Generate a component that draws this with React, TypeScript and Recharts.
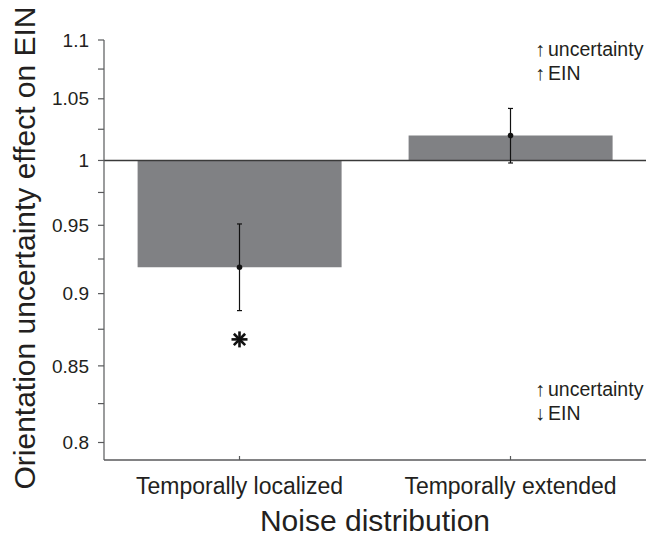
import * as React from 'react';
import {
    ComposedChart,
    Bar,
    Scatter,
    ErrorBar,
    XAxis,
    YAxis,
    ReferenceLine
} from 'recharts';

// values
const categories = ['Temporally localized', 'Temporally extended'];
const effect = [0.919, 1.02];
const errLow = [0.888, 0.998];
const errHigh = [0.951, 1.042];
const sigMarker: (number | null)[] = [0.868, null];
const yTicks = [0.8, 0.825, 0.85, 0.875, 0.9, 0.925, 0.95, 0.975, 1, 1.025, 1.05, 1.075, 1.1];

const BASE = 1;
const TEXT = '#231f20';
const AXIS = '#58595b';
const FONT = '"Liberation Sans", Arial, Helvetica, sans-serif';

const data = categories.map((c, i) => ({
    name: c,
    range: [BASE, effect[i]],
    mean: effect[i],
    err: [effect[i] - errLow[i], errHigh[i] - effect[i]],
    sig: sigMarker[i]
}));

const YTick = (props: any) => {
    const v = props.payload.value;
    const major = Math.round(v * 1000) % 50 === 0;
    if (!major) return null;
    return (
        <text x={props.x} y={props.y} dy="0.35em" textAnchor="end" fontSize={19} fill={TEXT} fontFamily={FONT}>
            {String(v)}
        </text>
    );
};

const XTick = (props: any) => {
    const { x, y, payload } = props;
    return (
        <g>
            <line x1={x} x2={x} y1={y} y2={y - 4} stroke={AXIS} strokeWidth={1.2} />
            <text x={x} y={y + 34} textAnchor="middle" fontSize={23} fill={TEXT} fontFamily={FONT}>
                {payload.value}
            </text>
        </g>
    );
};

const Dot = (props: any) => {
    if (!Number.isFinite(props.cx) || !Number.isFinite(props.cy)) return null;
    return <circle cx={props.cx} cy={props.cy} r={2.8} fill="#111" />;
};

const Asterisk = (props: any) => {
    const { cx, cy, payload } = props;
    if (payload.sig == null || !Number.isFinite(cy)) return null;
    const r = 8;
    const arms = [0, 45, 90, 135];
    return (
        <g>
            {arms.map((a) => {
                const dx = r * Math.cos((a * Math.PI) / 180);
                const dy = r * Math.sin((a * Math.PI) / 180);
                return <line key={a} x1={cx - dx} y1={cy - dy} x2={cx + dx} y2={cy + dy} stroke="#111" strokeWidth={2.6} />;
            })}
        </g>
    );
};

const Note = ({ y, arrow, word }: { y: number; arrow: string; word: string }) => (
    <g>
        <text x={535} y={y} fontSize={20}>{arrow}</text>
        <text x={548} y={y} fontSize={19.5}>{word}</text>
    </g>
);

export default function App() {
    return (
        <div style={{ position: 'absolute', left: 0, top: 0, width: 652, height: 537, background: '#fff' }}>
            <ComposedChart
                width={652}
                height={537}
                data={data}
                margin={{ top: 40, right: 6, bottom: 0, left: 0 }}
                barCategoryGap="12.4%"
            >
                <XAxis
                    dataKey="name"
                    type="category"
                    height={77}
                    tickSize={0}
                    tickMargin={0}
                    tick={<XTick />}
                    axisLine={{ stroke: AXIS, strokeWidth: 1.4 }}
                    tickLine={false}
                    interval={0}
                />
                <YAxis
                    scale="log"
                    domain={[0.789, 1.1]}
                    allowDataOverflow
                    ticks={yTicks}
                    width={104}
                    tickSize={6}
                    tickMargin={9}
                    tick={<YTick />}
                    axisLine={{ stroke: AXIS, strokeWidth: 1.2 }}
                    tickLine={{ stroke: AXIS, strokeWidth: 1.2 }}
                    interval={0}
                />
                <Bar dataKey="range" fill="#808184" isAnimationActive={false} />
                <ReferenceLine y={BASE} stroke="#3a3a3a" strokeWidth={1.6} />
                <Scatter dataKey="mean" shape={<Dot />} isAnimationActive={false}>
                    <ErrorBar dataKey="err" direction="y" width={2.5} stroke="#111" strokeWidth={1.2} />
                </Scatter>
                <Scatter dataKey="sig" shape={<Asterisk />} isAnimationActive={false} />
            </ComposedChart>
            <svg
                width={652}
                height={537}
                style={{ position: 'absolute', left: 0, top: 0, pointerEvents: 'none' }}
                fontFamily={FONT}
                fill={TEXT}
            >
                <text x={35} y={248} transform="rotate(-90, 35, 248)" textAnchor="middle" fontSize={30}>
                    Orientation uncertainty effect on EIN
                </text>
                <text x={375} y={531} textAnchor="middle" fontSize={30}>
                    Noise distribution
                </text>
                <Note y={56} arrow="↑" word="uncertainty" />
                <Note y={80} arrow="↑" word="EIN" />
                <Note y={396} arrow="↑" word="uncertainty" />
                <Note y={420} arrow="↓" word="EIN" />
            </svg>
        </div>
    );
}
